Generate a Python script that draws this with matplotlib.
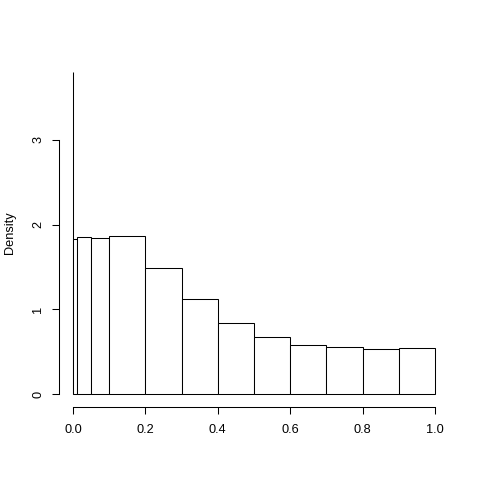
import matplotlib
matplotlib.use("Agg")
import matplotlib.pyplot as plt
import numpy as np

# histogram breaks (unequal widths) and densities
breaks = [0.0, 0.001, 0.01, 0.05, 0.1, 0.2, 0.3, 0.4, 0.5, 0.6, 0.7, 0.8, 0.9, 1.0]
density = [3.80, 1.83, 1.85, 1.845, 1.865, 1.484, 1.12, 0.838, 0.673, 0.578, 0.555, 0.531, 0.543]
x_ticks = [0.0, 0.2, 0.4, 0.6, 0.8, 1.0]
x_labels = ["0.0", "0.2", "0.4", "0.6", "0.8", "1.0"]
y_ticks = [0, 1, 2, 3]
y_labels = ["0", "1", "2", "3"]

plt.rcParams["font.family"] = ["Liberation Sans", "DejaVu Sans"]

fig = plt.figure(figsize=(4.8, 4.8), dpi=100)
# plot region in R-like device coordinates (pixels)
left, right, top, bottom = 58.5, 449.5, 59, 407
ax = fig.add_axes([left / 480, 1 - bottom / 480, (right - left) / 480, (bottom - top) / 480])

edges = np.array(breaks)
ax.bar(edges[:-1], density, width=np.diff(edges), align="edge",
       facecolor="white", edgecolor="black", linewidth=0.75)

ymax = max(density)
ax.set_xlim(-0.04, 1.04)
ax.set_ylim(-0.04 * ymax, ymax * 1.04)

for side in ("top", "right"):
    ax.spines[side].set_visible(False)
ax.spines["left"].set_bounds(0, 3)
ax.spines["bottom"].set_bounds(0, 1)
ax.spines["left"].set_linewidth(0.75)
ax.spines["bottom"].set_linewidth(0.75)

ax.set_xticks(x_ticks)
ax.set_xticklabels(x_labels, fontsize=9.2)
ax.set_yticks(y_ticks)
ax.set_yticklabels(y_labels, fontsize=9.2, rotation=90, va="center")
ax.tick_params(direction="out", length=5.2, width=0.75, pad=7)
ax.tick_params(axis="y", pad=5)

fig.text(10 / 480, 1 - 232.5 / 480, "Density", rotation=90,
         ha="center", va="center", fontsize=9.2)

fig.savefig("out.png", dpi=100)
